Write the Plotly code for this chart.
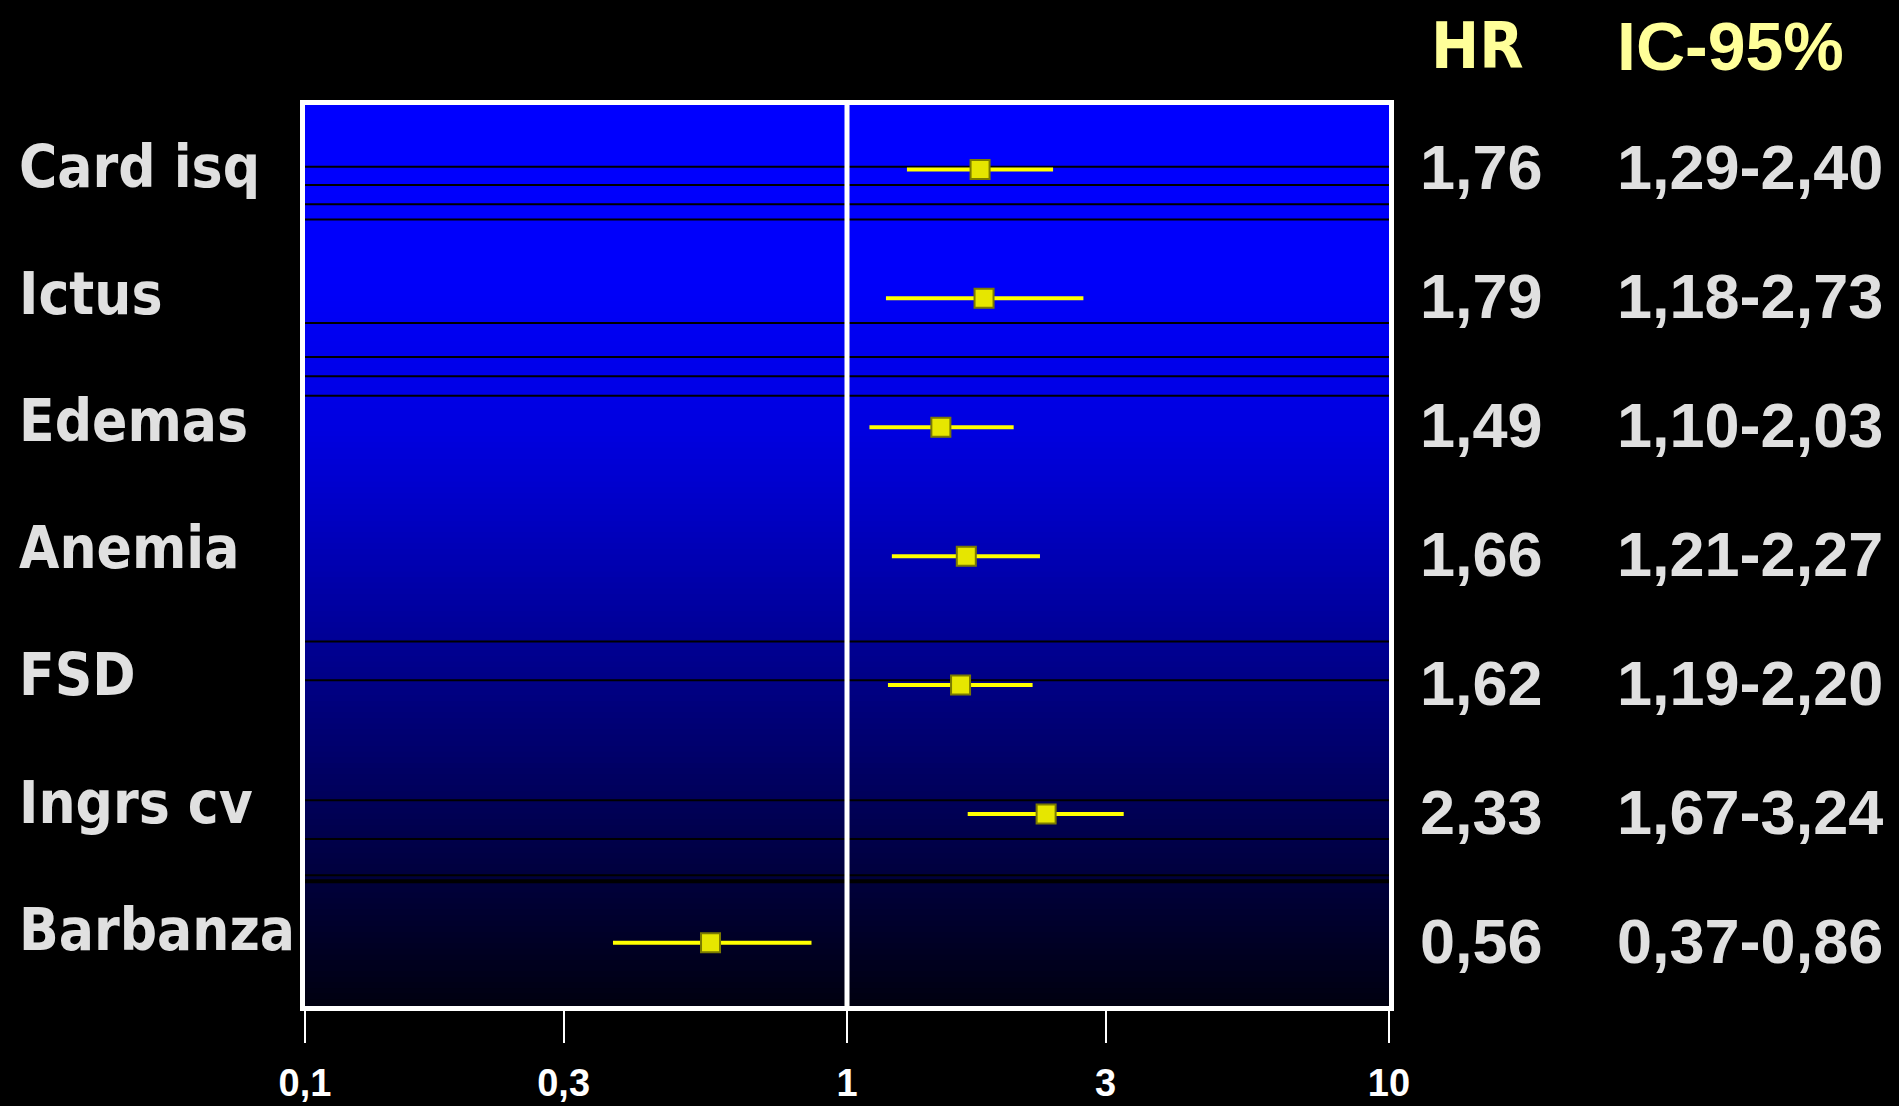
import plotly.graph_objects as go

# ---------------- data ----------------
categories = ["Card isq", "Ictus", "Edemas", "Anemia", "FSD", "Ingrs cv", "Barbanza"]
hr = [1.76, 1.79, 1.49, 1.66, 1.62, 2.33, 0.56]
ci_lo = [1.29, 1.18, 1.10, 1.21, 1.19, 1.67, 0.37]
ci_hi = [2.40, 2.73, 2.03, 2.27, 2.20, 3.24, 0.86]
hr_text = ["1,76", "1,79", "1,49", "1,66", "1,62", "2,33", "0,56"]
ci_text = ["1,29-2,40", "1,18-2,73", "1,10-2,03", "1,21-2,27", "1,19-2,20", "1,67-3,24", "0,37-0,86"]
tick_vals = [0.1, 0.3, 1, 3, 10]
tick_text = ["0,1", "0,3", "1", "3", "10"]
header_hr = "HR"
header_ci = "IC-95%"

# ---------------- layout constants ----------------
W, H = 1899, 1106
L, R, T, B = 305, 510, 105, 100
PW = W - L - R
PH = H - T - B

def px_x(X):
    return (X - L) / PW

def px_y(Y):
    return (H - B - Y) / PH

TEXT_GRAY = "#E0E0E0"
HEAD_YEL = "#FFFF99"
LABEL_FONT = "DejaVu Sans Condensed, DejaVu Sans, sans-serif"
NUM_FONT = "Liberation Sans, DejaVu Sans, sans-serif"

fig = go.Figure()

err_plus = [h - l for h, l in zip(ci_hi, hr)]
err_minus = [h - l for h, l in zip(hr, ci_lo)]

fig.add_trace(go.Scatter(
    x=hr, y=categories, mode="markers",
    marker=dict(symbol="square", size=19, color="#E6E600",
                line=dict(color="#7A7A00", width=2)),
    error_x=dict(type="data", symmetric=False, array=err_plus, arrayminus=err_minus,
                 color="#FFFF00", thickness=4, width=0),
    showlegend=False, hoverinfo="skip",
))

# ---------------- background gradient ----------------
stops = [(0.0, 255), (0.2, 250), (0.37, 222), (0.44, 200), (0.655, 128), (0.864, 58), (1.0, 16)]

def blue_at(t):
    for (t0, v0), (t1, v1) in zip(stops[:-1], stops[1:]):
        if t0 <= t <= t1:
            return v0 + (v1 - v0) * (t - t0) / (t1 - t0)
    return stops[-1][1]

shapes = []
N = 160
for k in range(N):
    t = (k + 0.5) / N  # fraction from top
    b = int(round(blue_at(t)))
    shapes.append(dict(type="rect", xref="x domain", yref="y domain",
                       x0=0, x1=1, y0=1 - (k + 1) / N - 0.001, y1=1 - k / N + 0.001,
                       fillcolor=f"rgb(0,0,{b})", line=dict(width=0), layer="below"))

# decorative dark horizontal lines (positions in displayed px of the reference)
line_pos = [138, 153, 169, 181.5, 267, 295, 311, 327, 530, 562, 661, 693, 723]
for yp in line_pos:
    f = (831 - yp) / 744
    shapes.append(dict(type="line", xref="x domain", yref="y domain", x0=0, x1=1, y0=f, y1=f,
                       line=dict(color="#000000", width=2), layer="below"))
f = (831 - 728) / 744
shapes.append(dict(type="line", xref="x domain", yref="y domain", x0=0, x1=1, y0=f, y1=f,
                   line=dict(color="#000000", width=4), layer="below"))

# reference line at HR = 1
shapes.append(dict(type="line", xref="x", yref="y domain", x0=1, x1=1, y0=0, y1=1,
                   line=dict(color="#FFFFFF", width=5), layer="below"))

# ---------------- annotations ----------------
annotations = []
label_x = px_x(17)
for i, c in enumerate(categories):
    ydisp = 138 + 105 * i
    annotations.append(dict(text=f"<b>{c}</b>", xref="paper", yref="paper",
                            x=label_x, y=(831 - ydisp) / 744, xanchor="left", yanchor="middle",
                            showarrow=False, font=dict(family=LABEL_FONT, size=58, color=TEXT_GRAY)))
for i in range(len(categories)):
    annotations.append(dict(text=f"<b>{hr_text[i]}</b>", xref="paper", yref="y",
                            x=px_x(1482), y=categories[i], xanchor="center", yanchor="middle",
                            yshift=2, showarrow=False,
                            font=dict(family=NUM_FONT, size=63, color=TEXT_GRAY)))
    annotations.append(dict(text=f"<b>{ci_text[i]}</b>", xref="paper", yref="y",
                            x=px_x(1750), y=categories[i], xanchor="center", yanchor="middle",
                            yshift=2, showarrow=False,
                            font=dict(family=NUM_FONT, size=63, color=TEXT_GRAY)))

annotations.append(dict(text=f"<b>{header_hr}</b>", xref="paper", yref="paper",
                        x=px_x(1477), y=px_y(46), xanchor="center", yanchor="middle",
                        showarrow=False, font=dict(family=LABEL_FONT, size=64, color=HEAD_YEL)))
annotations.append(dict(text=f"<b>{header_ci}</b>", xref="paper", yref="paper",
                        x=px_x(1730), y=px_y(46), xanchor="center", yanchor="middle",
                        showarrow=False, font=dict(family=NUM_FONT, size=68, color=HEAD_YEL)))

fig.update_layout(
    width=W, height=H,
    margin=dict(l=L, r=R, t=T, b=B, pad=0, autoexpand=False),
    paper_bgcolor="#000000", plot_bgcolor="#000000",
    shapes=shapes, annotations=annotations,
    showlegend=False,
    xaxis=dict(type="log", range=[-1, 1], tickvals=tick_vals, ticktext=tick_text,
               automargin=False,
               showgrid=False, zeroline=False, showline=True, mirror=True,
               linecolor="#FFFFFF", linewidth=5,
               ticks="outside", ticklen=32, tickwidth=2, tickcolor="#FFFFFF",
               ticklabelstandoff=7,
               tickfont=dict(family=NUM_FONT, size=38, color="#FFFFFF", weight="bold")),
    yaxis=dict(type="category", categoryorder="array", categoryarray=categories,
               automargin=False,
               range=[6.49, -0.5], showgrid=False, zeroline=False, showticklabels=False,
               showline=True, mirror=True, linecolor="#FFFFFF", linewidth=5, ticks=""),
)

fig.write_html(
    "out.html",
    config={"displayModeBar": False},
    post_script="document.body.style.margin='0';document.body.style.background='#000';",
)
